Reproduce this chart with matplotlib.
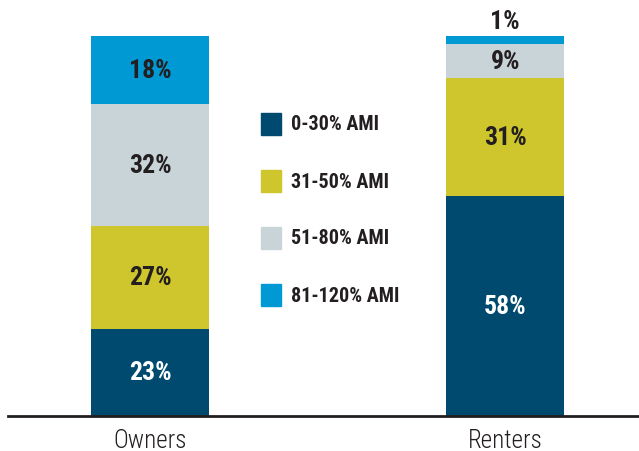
import matplotlib.pyplot as plt
from matplotlib import font_manager
from matplotlib.patches import Rectangle

# data
groups = ['Owners', 'Renters']
bands = ['0-30% AMI', '31-50% AMI', '51-80% AMI', '81-120% AMI']
owners = [23, 27, 32, 18]
renters = [58, 31, 9, 2]          # bar heights
owner_labels = ['23%', '27%', '32%', '18%']
renter_labels = ['58%', '31%', '9%', '1%']
colors = ['#00496f', '#cec62c', '#c9d4d9', '#0099d3']
text_colors = ['white', '#231f20', '#231f20', '#231f20']

names = {f.name for f in font_manager.fontManager.ttflist}
narrow = 'DejaVu Sans'
for cand in ['Roboto Condensed', 'Liberation Sans Narrow', 'Liberation Sans']:
    if cand in names:
        narrow = cand
        break

fig = plt.figure(figsize=(6.39, 4.52), dpi=100)
ax = fig.add_axes([8/639, 35/452, 631/639, 417/452])
ax.set_xlim(-0.4, 1.377)
ax.set_ylim(0, 417/3.8)

w = 0.332
for x, vals, labs in [(0, owners, owner_labels), (1, renters, renter_labels)]:
    bottom = 0
    for i, v in enumerate(vals):
        ax.bar(x, v, w, bottom=bottom, color=colors[i], linewidth=0)
        if labs[i] == '1%':
            ax.text(x, bottom + v + 4, labs[i], ha='center', va='center',
                    fontsize=18.5, fontweight='bold', family=narrow, color='#231f20')
        else:
            ax.text(x, bottom + v/2, labs[i], ha='center', va='center',
                    fontsize=18.5, fontweight='bold', family=narrow, color=text_colors[i])
        bottom += v

# legend
for i, b in enumerate(bands):
    y = 1 - (125 + 57*i)/452
    fig.patches.append(Rectangle((261/639, y - 11/452), 20/639, 22/452,
                                 transform=fig.transFigure, color=colors[i]))
    fig.text(291/639, y, b, ha='left', va='center', fontsize=14.5,
             fontweight='bold', family=narrow, color='#231f20')

for s in ['top', 'right', 'left']:
    ax.spines[s].set_visible(False)
ax.spines['bottom'].set_linewidth(2)
ax.spines['bottom'].set_color('#231f20')
ax.set_yticks([])
ax.set_xticks([0, 1])
ax.set_xticklabels(groups, fontsize=18, fontweight='light', family=narrow, color='#231f20')
ax.tick_params(axis='x', length=0, pad=9)

fig.savefig('out.png', dpi=100)
